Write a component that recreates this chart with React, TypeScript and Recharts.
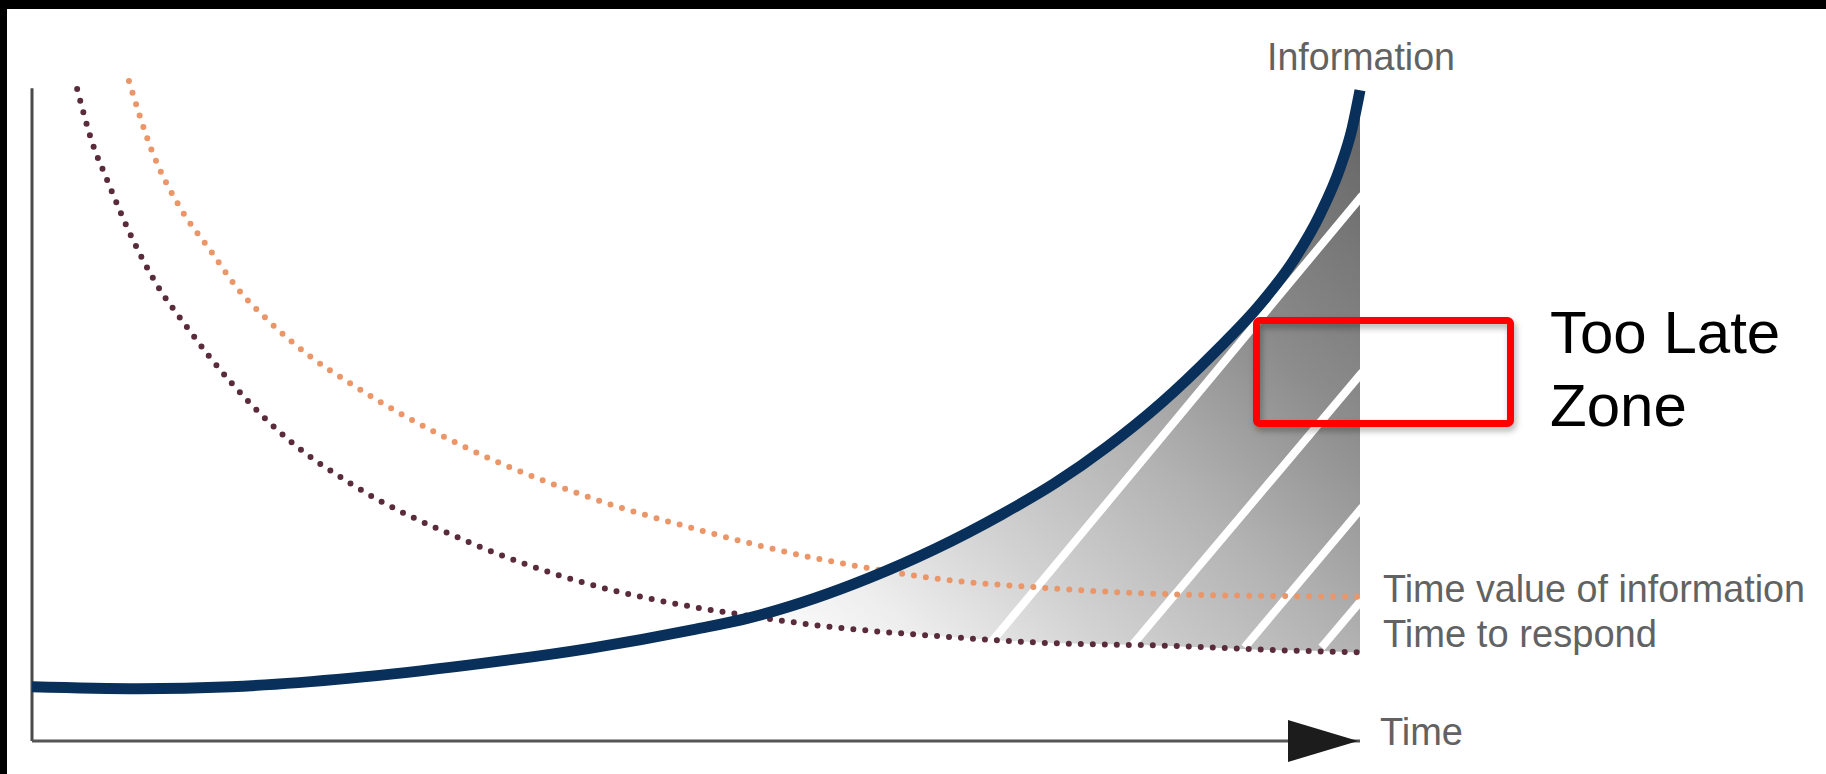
import React from 'react';
import { ComposedChart, Line, Area, XAxis, YAxis, ReferenceLine, ReferenceDot } from 'recharts';

// ---- Data (x: time 0..100, y: level 0..100) ----
const infoX = [0, 8, 15, 24, 33, 42, 50, 54, 59, 63, 68, 73, 77, 81, 85, 89, 92.5, 95, 97, 98.5, 99.4, 100];
const infoY = [8.2, 7.9, 8.2, 9.5, 11.5, 14.0, 16.9, 18.6, 21.6, 24.6, 29.0, 34.2, 38.9, 44.5, 51.0, 58.6, 66.0, 72.6, 79.6, 86.6, 92.5, 98.3];

const valueX = [7.3, 9.0, 11.2, 13.4, 15.5, 17.9, 20.8, 23.9, 32.7, 41.4, 50.2, 59.0, 62.5, 67.8, 76.5, 85.2, 94.1, 100];
const valueY = [99.7, 89.3, 80.4, 74.2, 68.3, 63.3, 58.3, 54.1, 44.3, 37.2, 31.9, 27.6, 26.3, 24.6, 23.1, 22.2, 21.9, 21.8];

const respondX = [3.4, 4.6, 5.5, 7.6, 9.2, 11.6, 15.1, 19.5, 23.9, 32.7, 41.4, 50.2, 53.7, 59.0, 67.8, 76.5, 85.2, 94.1, 100];
const respondY = [98.5, 90.0, 85.5, 75.7, 69.6, 62.7, 53.9, 45.2, 39.0, 30.2, 24.0, 20.1, 19.0, 17.5, 15.9, 14.8, 14.4, 13.7, 13.4];

// "Too late" zone: between time-to-respond (low) and information (high)
const zoneX = [54.5, 59, 63, 68, 73, 77, 81, 85, 89, 92.5, 95, 97, 98.5, 99.4, 100];
const zoneLow = [18.8, 17.5, 16.7, 15.9, 15.2, 14.8, 14.6, 14.4, 14.1, 13.8, 13.7, 13.6, 13.5, 13.4, 13.4];
const zoneHigh = [18.9, 21.6, 24.6, 29.0, 34.2, 38.9, 44.5, 51.0, 58.6, 66.0, 72.6, 79.6, 86.6, 92.5, 98.3];

// diagonal hatching inside the zone
const stripeStartX = [72.1, 82.9, 91.5, 97.3];
const stripeStartY = [14.6, 14.6, 14.6, 14.6];
const stripeEndX = [100, 100, 100, 100];
const stripeEndY = [82.0, 55.3, 34.9, 21.0];

const labels = {
  yAxis: 'Information',
  xAxis: 'Time',
  value: 'Time value of information',
  respond: 'Time to respond',
  zone1: 'Too Late',
  zone2: 'Zone',
};

const toRows = (xs: number[], ys: number[]) => xs.map((x, i) => ({ x, y: ys[i] }));
const infoRows = toRows(infoX, infoY);
const valueRows = toRows(valueX, valueY);
const respondRows = toRows(respondX, respondY);
const zoneRows = zoneX.map((x, i) => ({ x, low: zoneLow[i], high: zoneHigh[i] }));
const stripeRows = stripeStartX.map((sx, i) => [
  { x: sx, y: stripeStartY[i] },
  { x: stripeEndX[i], y: stripeEndY[i] },
]);

const W = 1826;
const H = 774;
const labelFont = '"Liberation Sans", Arial, Helvetica, sans-serif';
const labelColor = '#626262';
const labelSize = 39;

const Arrow = (p: any) => (
  <path
    d={`M${p.cx - 2},${p.cy} L${p.cx - 72},${p.cy - 21} L${p.cx - 72},${p.cy + 21} Z`}
    fill="#1c1c1c"
  />
);

export default function App() {
  return (
    <div style={{ position: 'fixed', left: 0, top: 0, width: W, height: H, background: '#000', overflow: 'hidden' }}>
      <div style={{ position: 'absolute', left: 7, top: 9, right: 0, bottom: 0, background: '#fff' }} />
      <div style={{ position: 'absolute', left: 0, top: 0 }}>
        <ComposedChart width={W} height={H} margin={{ top: 79, right: 466, bottom: 33, left: 32 }}>
          <defs>
            <linearGradient id="zoneFill" x1="0" y1="1" x2="1" y2="0">
              <stop offset="0" stopColor="#ffffff" />
              <stop offset="0.15" stopColor="#ededed" />
              <stop offset="0.3" stopColor="#d2d2d2" />
              <stop offset="0.5" stopColor="#b2b2b2" />
              <stop offset="0.7" stopColor="#8c8c8c" />
              <stop offset="0.85" stopColor="#787878" />
              <stop offset="1" stopColor="#626262" />
            </linearGradient>
          </defs>
          <XAxis type="number" dataKey="x" domain={[0, 100]} hide />
          <YAxis type="number" domain={[0, 100]} hide />
          <Area
            data={zoneRows}
            dataKey={(d: any) => [d.low, d.high]}
            type="monotone"
            stroke="none"
            fill="url(#zoneFill)"
            fillOpacity={1}
            isAnimationActive={false}
          />
          {stripeRows.map((rows, i) => (
            <Line
              key={`stripe-${i}`}
              data={rows}
              dataKey="y"
              type="linear"
              stroke="#ffffff"
              strokeWidth={8}
              strokeLinecap="square"
              dot={false}
              activeDot={false}
              isAnimationActive={false}
            />
          ))}
          <ReferenceLine
            segment={[{ x: 0, y: 0 }, { x: 0, y: 98.6 }]}
            stroke="#4a4a4a"
            strokeWidth={3}
          />
          <ReferenceLine y={0} stroke="#555555" strokeWidth={3} />
          <ReferenceDot x={100} y={0} r={0} ifOverflow="visible" shape={Arrow} />
          <Line
            data={valueRows}
            dataKey="y"
            type="monotone"
            stroke="#ea9668"
            strokeWidth={6}
            strokeDasharray="0 12"
            strokeLinecap="round"
            dot={false}
            activeDot={false}
            isAnimationActive={false}
          />
          <Line
            data={respondRows}
            dataKey="y"
            type="monotone"
            stroke="#5a2b3b"
            strokeWidth={6}
            strokeDasharray="0 12"
            strokeLinecap="round"
            dot={false}
            activeDot={false}
            isAnimationActive={false}
          />
          <Line
            data={infoRows}
            dataKey="y"
            type="monotone"
            stroke="#08305a"
            strokeWidth={11}
            dot={false}
            activeDot={false}
            isAnimationActive={false}
          />
        </ComposedChart>
      </div>
      <svg
        width={W}
        height={H}
        style={{ position: 'absolute', left: 0, top: 0, pointerEvents: 'none' }}
      >
        <defs>
          <filter id="boxShadow" x="-10%" y="-20%" width="130%" height="150%">
            <feDropShadow dx="2" dy="4" stdDeviation="3" floodColor="#000" floodOpacity="0.3" />
          </filter>
        </defs>
        <text x={1267} y={70} fontSize={labelSize} fontFamily={labelFont} fill={labelColor} textLength={188} lengthAdjust="spacingAndGlyphs">
          {labels.yAxis}
        </text>
        <text x={1383} y={602} fontSize={labelSize} fontFamily={labelFont} fill={labelColor} textLength={422} lengthAdjust="spacingAndGlyphs">
          {labels.value}
        </text>
        <text x={1383} y={647} fontSize={labelSize} fontFamily={labelFont} fill={labelColor} textLength={274} lengthAdjust="spacingAndGlyphs">
          {labels.respond}
        </text>
        <text x={1380} y={745} fontSize={labelSize} fontFamily={labelFont} fill={labelColor} textLength={83} lengthAdjust="spacingAndGlyphs">
          {labels.xAxis}
        </text>
        <rect
          x={1256.5}
          y={320.5}
          width={254}
          height={103}
          rx={3}
          fill="none"
          stroke="#ff0000"
          strokeWidth={7}
          filter="url(#boxShadow)"
        />
        <text x={1550} y={353} fontSize={60} fontFamily={labelFont} fill="#000">
          {labels.zone1}
        </text>
        <text x={1550} y={426} fontSize={60} fontFamily={labelFont} fill="#000">
          {labels.zone2}
        </text>
      </svg>
    </div>
  );
}
